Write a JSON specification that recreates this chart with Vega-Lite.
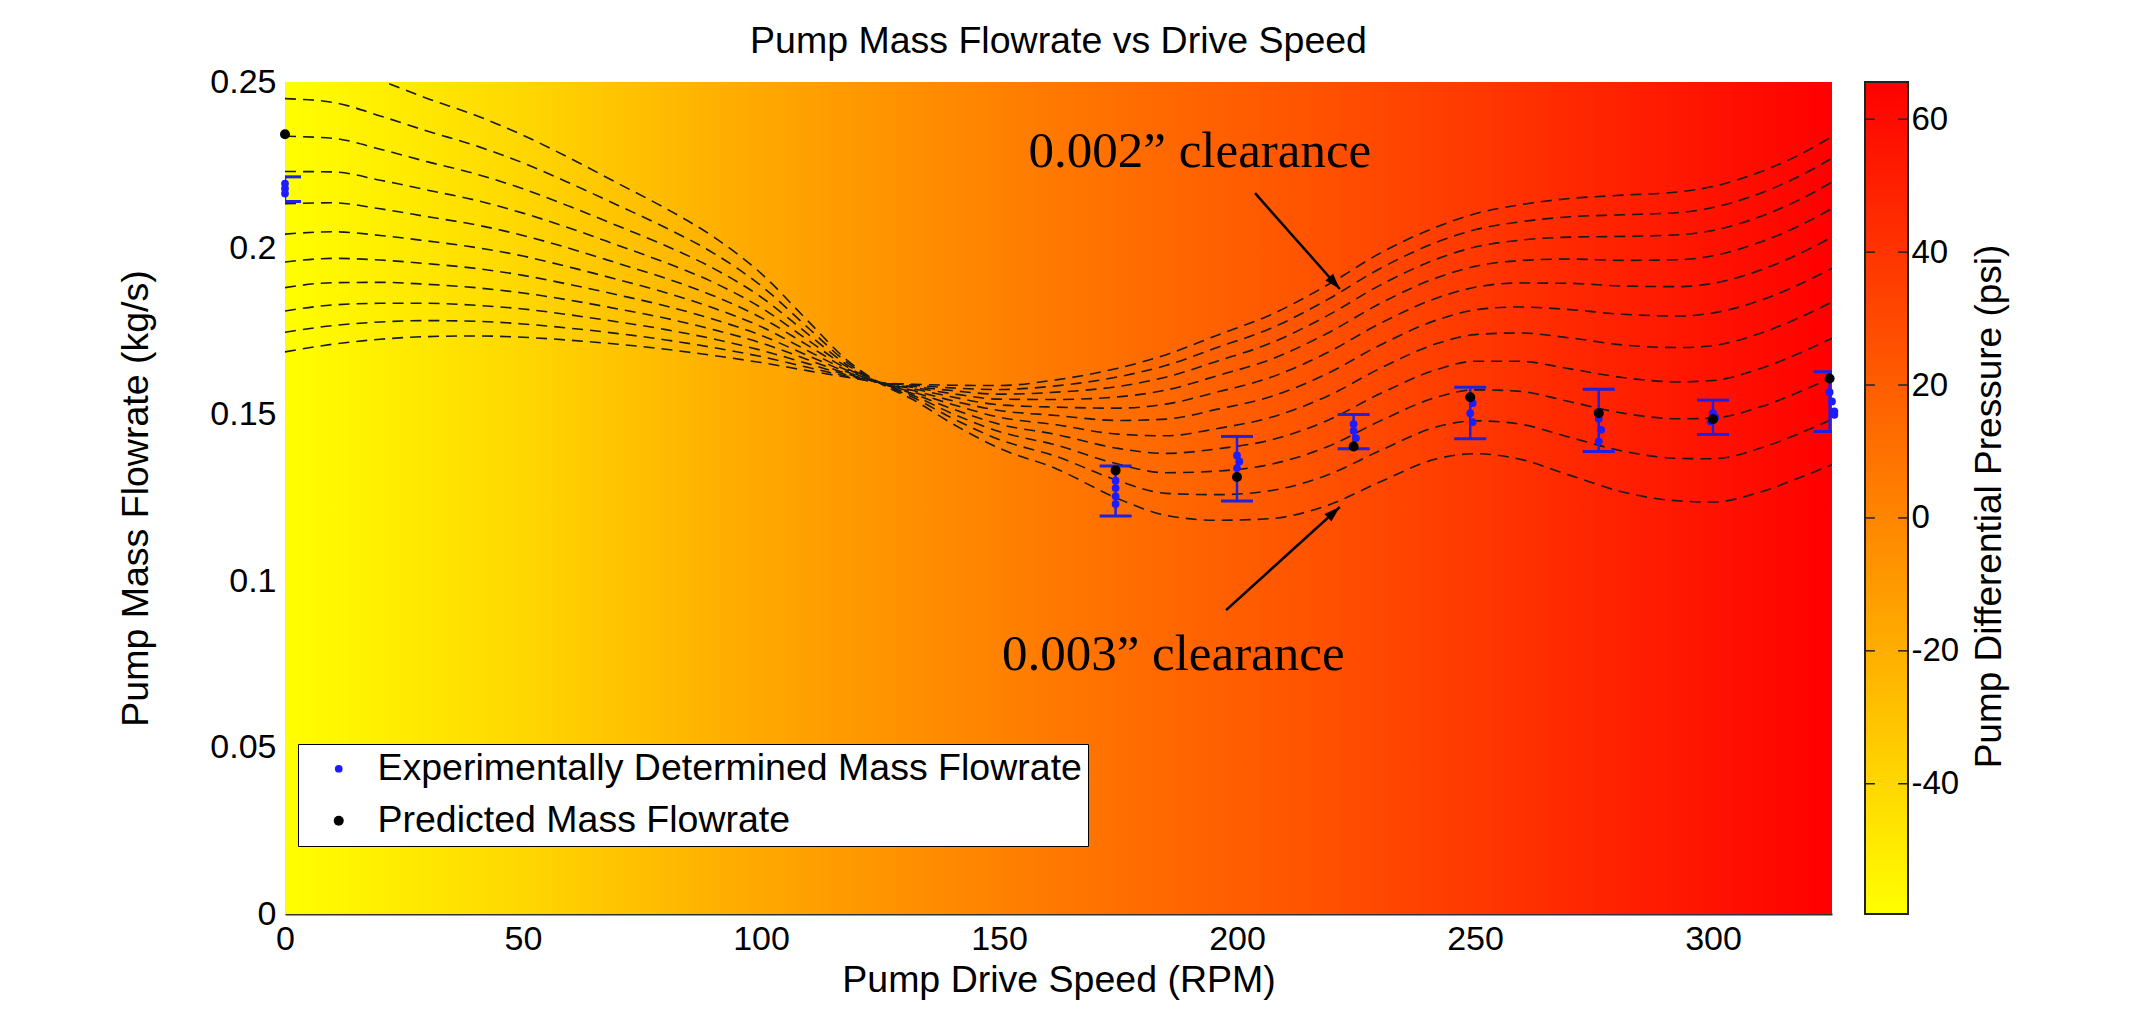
{
  "$schema": "https://vega.github.io/schema/vega-lite/v6.json",
  "padding": {"left": 117, "top": 22, "right": 5, "bottom": 5},
  "background": "white",
  "spacing": 33,
  "bounds": "flush",
  "config": {
    "font": "Liberation Sans",
    "view": {"stroke": null},
    "axis": {"labelColor": "#000", "titleColor": "#000", "titleFontWeight": "normal", "labelFont": "Liberation Sans", "titleFont": "Liberation Sans", "labelFlush": false, "labelOverlap": false, "grid": false}
  },
  "resolve": {"scale": {"color": "independent", "size": "independent", "x": "independent", "y": "independent"}},
  "datasets": {
    "curves": [
      {"c":0,"x":0,"y":0.1689},{"c":0,"x":10,"y":0.1712},{"c":0,"x":20,"y":0.1727},{"c":0,"x":30,"y":0.1735},{"c":0,"x":40,"y":0.1737},{"c":0,"x":50,"y":0.1733},{"c":0,"x":60,"y":0.1724},{"c":0,"x":70,"y":0.1712},{"c":0,"x":80,"y":0.1697},{"c":0,"x":90,"y":0.1678},{"c":0,"x":100,"y":0.1657},{"c":0,"x":110,"y":0.1632},{"c":0,"x":118,"y":0.1613},{"c":0,"x":125,"y":0.1597},{"c":0,"x":132,"y":0.1592},{"c":0,"x":140,"y":0.1589},{"c":0,"x":150,"y":0.1588},{"c":0,"x":162,"y":0.1605},{"c":0,"x":175,"y":0.1640},{"c":0,"x":185,"y":0.1680},{"c":0,"x":196,"y":0.1740},{"c":0,"x":207,"y":0.1800},{"c":0,"x":219,"y":0.1890},{"c":0,"x":230,"y":0.1985},{"c":0,"x":242,"y":0.2065},{"c":0,"x":250,"y":0.2104},{"c":0,"x":259,"y":0.2130},{"c":0,"x":270,"y":0.2150},{"c":0,"x":281,"y":0.2160},{"c":0,"x":293,"y":0.2170},{"c":0,"x":300,"y":0.2186},{"c":0,"x":310,"y":0.2230},{"c":0,"x":318,"y":0.2280},{"c":0,"x":325,"y":0.2336},
      {"c":1,"x":0,"y":0.1748},{"c":1,"x":10,"y":0.1768},{"c":1,"x":20,"y":0.1779},{"c":1,"x":30,"y":0.1783},{"c":1,"x":40,"y":0.1781},{"c":1,"x":50,"y":0.1773},{"c":1,"x":60,"y":0.1760},{"c":1,"x":70,"y":0.1744},{"c":1,"x":80,"y":0.1725},{"c":1,"x":90,"y":0.1702},{"c":1,"x":100,"y":0.1675},{"c":1,"x":110,"y":0.1642},{"c":1,"x":118,"y":0.1616},{"c":1,"x":125,"y":0.1597},{"c":1,"x":132,"y":0.1589},{"c":1,"x":140,"y":0.1581},{"c":1,"x":150,"y":0.1576},{"c":1,"x":162,"y":0.1587},{"c":1,"x":175,"y":0.1614},{"c":1,"x":185,"y":0.1648},{"c":1,"x":196,"y":0.1703},{"c":1,"x":207,"y":0.1759},{"c":1,"x":219,"y":0.1846},{"c":1,"x":230,"y":0.1939},{"c":1,"x":242,"y":0.2019},{"c":1,"x":250,"y":0.2056},{"c":1,"x":259,"y":0.2079},{"c":1,"x":270,"y":0.2095},{"c":1,"x":281,"y":0.2101},{"c":1,"x":293,"y":0.2108},{"c":1,"x":300,"y":0.2123},{"c":1,"x":310,"y":0.2166},{"c":1,"x":318,"y":0.2216},{"c":1,"x":325,"y":0.2271},
      {"c":2,"x":0,"y":0.1812},{"c":2,"x":10,"y":0.1830},{"c":2,"x":20,"y":0.1835},{"c":2,"x":30,"y":0.1835},{"c":2,"x":40,"y":0.1829},{"c":2,"x":50,"y":0.1818},{"c":2,"x":60,"y":0.1800},{"c":2,"x":70,"y":0.1779},{"c":2,"x":80,"y":0.1756},{"c":2,"x":90,"y":0.1728},{"c":2,"x":100,"y":0.1694},{"c":2,"x":110,"y":0.1653},{"c":2,"x":118,"y":0.1620},{"c":2,"x":125,"y":0.1597},{"c":2,"x":132,"y":0.1585},{"c":2,"x":140,"y":0.1573},{"c":2,"x":150,"y":0.1562},{"c":2,"x":162,"y":0.1568},{"c":2,"x":175,"y":0.1585},{"c":2,"x":185,"y":0.1613},{"c":2,"x":196,"y":0.1662},{"c":2,"x":207,"y":0.1715},{"c":2,"x":219,"y":0.1798},{"c":2,"x":230,"y":0.1889},{"c":2,"x":242,"y":0.1968},{"c":2,"x":250,"y":0.2004},{"c":2,"x":259,"y":0.2024},{"c":2,"x":270,"y":0.2034},{"c":2,"x":281,"y":0.2036},{"c":2,"x":293,"y":0.2041},{"c":2,"x":300,"y":0.2054},{"c":2,"x":310,"y":0.2096},{"c":2,"x":318,"y":0.2145},{"c":2,"x":325,"y":0.2199},
      {"c":3,"x":0,"y":0.1882},{"c":3,"x":10,"y":0.1897},{"c":3,"x":20,"y":0.1898},{"c":3,"x":30,"y":0.1892},{"c":3,"x":40,"y":0.1882},{"c":3,"x":50,"y":0.1866},{"c":3,"x":60,"y":0.1844},{"c":3,"x":70,"y":0.1818},{"c":3,"x":80,"y":0.1790},{"c":3,"x":90,"y":0.1756},{"c":3,"x":100,"y":0.1716},{"c":3,"x":110,"y":0.1665},{"c":3,"x":118,"y":0.1624},{"c":3,"x":125,"y":0.1597},{"c":3,"x":132,"y":0.1582},{"c":3,"x":140,"y":0.1564},{"c":3,"x":150,"y":0.1547},{"c":3,"x":162,"y":0.1546},{"c":3,"x":175,"y":0.1554},{"c":3,"x":185,"y":0.1574},{"c":3,"x":196,"y":0.1618},{"c":3,"x":207,"y":0.1666},{"c":3,"x":219,"y":0.1745},{"c":3,"x":230,"y":0.1834},{"c":3,"x":242,"y":0.1912},{"c":3,"x":250,"y":0.1946},{"c":3,"x":259,"y":0.1963},{"c":3,"x":270,"y":0.1968},{"c":3,"x":281,"y":0.1964},{"c":3,"x":293,"y":0.1966},{"c":3,"x":300,"y":0.1978},{"c":3,"x":310,"y":0.2019},{"c":3,"x":318,"y":0.2067},{"c":3,"x":325,"y":0.2120},
      {"c":4,"x":0,"y":0.1959},{"c":4,"x":10,"y":0.1970},{"c":4,"x":20,"y":0.1965},{"c":4,"x":30,"y":0.1954},{"c":4,"x":40,"y":0.1940},{"c":4,"x":50,"y":0.1919},{"c":4,"x":60,"y":0.1891},{"c":4,"x":70,"y":0.1860},{"c":4,"x":80,"y":0.1827},{"c":4,"x":90,"y":0.1787},{"c":4,"x":100,"y":0.1739},{"c":4,"x":110,"y":0.1677},{"c":4,"x":118,"y":0.1629},{"c":4,"x":125,"y":0.1596},{"c":4,"x":132,"y":0.1578},{"c":4,"x":140,"y":0.1554},{"c":4,"x":150,"y":0.1530},{"c":4,"x":162,"y":0.1523},{"c":4,"x":175,"y":0.1520},{"c":4,"x":185,"y":0.1532},{"c":4,"x":196,"y":0.1569},{"c":4,"x":207,"y":0.1612},{"c":4,"x":219,"y":0.1687},{"c":4,"x":230,"y":0.1774},{"c":4,"x":242,"y":0.1851},{"c":4,"x":250,"y":0.1883},{"c":4,"x":259,"y":0.1896},{"c":4,"x":270,"y":0.1895},{"c":4,"x":281,"y":0.1887},{"c":4,"x":293,"y":0.1885},{"c":4,"x":300,"y":0.1895},{"c":4,"x":310,"y":0.1935},{"c":4,"x":318,"y":0.1983},{"c":4,"x":325,"y":0.2034},
      {"c":5,"x":0,"y":0.2043},{"c":5,"x":10,"y":0.2050},{"c":5,"x":20,"y":0.2039},{"c":5,"x":30,"y":0.2022},{"c":5,"x":40,"y":0.2003},{"c":5,"x":50,"y":0.1977},{"c":5,"x":60,"y":0.1943},{"c":5,"x":70,"y":0.1906},{"c":5,"x":80,"y":0.1867},{"c":5,"x":90,"y":0.1821},{"c":5,"x":100,"y":0.1765},{"c":5,"x":110,"y":0.1691},{"c":5,"x":118,"y":0.1634},{"c":5,"x":125,"y":0.1596},{"c":5,"x":132,"y":0.1573},{"c":5,"x":140,"y":0.1543},{"c":5,"x":150,"y":0.1513},{"c":5,"x":162,"y":0.1498},{"c":5,"x":175,"y":0.1483},{"c":5,"x":185,"y":0.1487},{"c":5,"x":196,"y":0.1517},{"c":5,"x":207,"y":0.1554},{"c":5,"x":219,"y":0.1624},{"c":5,"x":230,"y":0.1709},{"c":5,"x":242,"y":0.1785},{"c":5,"x":250,"y":0.1815},{"c":5,"x":259,"y":0.1824},{"c":5,"x":270,"y":0.1816},{"c":5,"x":281,"y":0.1802},{"c":5,"x":293,"y":0.1797},{"c":5,"x":300,"y":0.1806},{"c":5,"x":310,"y":0.1844},{"c":5,"x":318,"y":0.1891},{"c":5,"x":325,"y":0.1940},
      {"c":6,"x":0,"y":0.2134},{"c":6,"x":10,"y":0.2137},{"c":6,"x":20,"y":0.2119},{"c":6,"x":30,"y":0.2095},{"c":6,"x":40,"y":0.2071},{"c":6,"x":50,"y":0.2039},{"c":6,"x":60,"y":0.1999},{"c":6,"x":70,"y":0.1955},{"c":6,"x":80,"y":0.1910},{"c":6,"x":90,"y":0.1858},{"c":6,"x":100,"y":0.1792},{"c":6,"x":110,"y":0.1707},{"c":6,"x":118,"y":0.1639},{"c":6,"x":125,"y":0.1596},{"c":6,"x":132,"y":0.1568},{"c":6,"x":140,"y":0.1532},{"c":6,"x":150,"y":0.1493},{"c":6,"x":162,"y":0.1470},{"c":6,"x":175,"y":0.1442},{"c":6,"x":185,"y":0.1437},{"c":6,"x":196,"y":0.1459},{"c":6,"x":207,"y":0.1492},{"c":6,"x":219,"y":0.1556},{"c":6,"x":230,"y":0.1639},{"c":6,"x":242,"y":0.1714},{"c":6,"x":250,"y":0.1741},{"c":6,"x":259,"y":0.1746},{"c":6,"x":270,"y":0.1731},{"c":6,"x":281,"y":0.1710},{"c":6,"x":293,"y":0.1702},{"c":6,"x":300,"y":0.1708},{"c":6,"x":310,"y":0.1745},{"c":6,"x":318,"y":0.1791},{"c":6,"x":325,"y":0.1839},
      {"c":7,"x":0,"y":0.2231},{"c":7,"x":10,"y":0.2230},{"c":7,"x":20,"y":0.2205},{"c":7,"x":30,"y":0.2175},{"c":7,"x":40,"y":0.2145},{"c":7,"x":50,"y":0.2106},{"c":7,"x":60,"y":0.2060},{"c":7,"x":70,"y":0.2009},{"c":7,"x":80,"y":0.1957},{"c":7,"x":90,"y":0.1898},{"c":7,"x":100,"y":0.1822},{"c":7,"x":110,"y":0.1723},{"c":7,"x":118,"y":0.1645},{"c":7,"x":125,"y":0.1596},{"c":7,"x":132,"y":0.1563},{"c":7,"x":140,"y":0.1519},{"c":7,"x":150,"y":0.1472},{"c":7,"x":162,"y":0.1441},{"c":7,"x":175,"y":0.1399},{"c":7,"x":185,"y":0.1384},{"c":7,"x":196,"y":0.1398},{"c":7,"x":207,"y":0.1424},{"c":7,"x":219,"y":0.1483},{"c":7,"x":230,"y":0.1563},{"c":7,"x":242,"y":0.1636},{"c":7,"x":250,"y":0.1661},{"c":7,"x":259,"y":0.1661},{"c":7,"x":270,"y":0.1638},{"c":7,"x":281,"y":0.1612},{"c":7,"x":293,"y":0.1599},{"c":7,"x":300,"y":0.1603},{"c":7,"x":310,"y":0.1639},{"c":7,"x":318,"y":0.1684},{"c":7,"x":325,"y":0.1730},
      {"c":8,"x":0,"y":0.2337},{"c":8,"x":10,"y":0.2331},{"c":8,"x":20,"y":0.2298},{"c":8,"x":30,"y":0.2260},{"c":8,"x":40,"y":0.2224},{"c":8,"x":50,"y":0.2179},{"c":8,"x":60,"y":0.2125},{"c":8,"x":70,"y":0.2067},{"c":8,"x":80,"y":0.2008},{"c":8,"x":90,"y":0.1940},{"c":8,"x":100,"y":0.1854},{"c":8,"x":110,"y":0.1741},{"c":8,"x":118,"y":0.1651},{"c":8,"x":125,"y":0.1596},{"c":8,"x":132,"y":0.1558},{"c":8,"x":140,"y":0.1505},{"c":8,"x":150,"y":0.1450},{"c":8,"x":162,"y":0.1409},{"c":8,"x":175,"y":0.1352},{"c":8,"x":185,"y":0.1326},{"c":8,"x":196,"y":0.1331},{"c":8,"x":207,"y":0.1351},{"c":8,"x":219,"y":0.1404},{"c":8,"x":230,"y":0.1481},{"c":8,"x":242,"y":0.1553},{"c":8,"x":250,"y":0.1575},{"c":8,"x":259,"y":0.1571},{"c":8,"x":270,"y":0.1539},{"c":8,"x":281,"y":0.1505},{"c":8,"x":293,"y":0.1488},{"c":8,"x":300,"y":0.1490},{"c":8,"x":310,"y":0.1524},{"c":8,"x":318,"y":0.1568},{"c":8,"x":325,"y":0.1612},
      {"c":9,"x":0,"y":0.2450},{"c":9,"x":10,"y":0.2439},{"c":9,"x":20,"y":0.2398},{"c":9,"x":30,"y":0.2352},{"c":9,"x":40,"y":0.2309},{"c":9,"x":50,"y":0.2257},{"c":9,"x":60,"y":0.2195},{"c":9,"x":70,"y":0.2129},{"c":9,"x":80,"y":0.2062},{"c":9,"x":90,"y":0.1986},{"c":9,"x":100,"y":0.1888},{"c":9,"x":110,"y":0.1760},{"c":9,"x":118,"y":0.1658},{"c":9,"x":125,"y":0.1595},{"c":9,"x":132,"y":0.1552},{"c":9,"x":140,"y":0.1491},{"c":9,"x":150,"y":0.1426},{"c":9,"x":162,"y":0.1375},{"c":9,"x":175,"y":0.1302},{"c":9,"x":185,"y":0.1264},{"c":9,"x":196,"y":0.1260},{"c":9,"x":207,"y":0.1272},{"c":9,"x":219,"y":0.1319},{"c":9,"x":230,"y":0.1392},{"c":9,"x":242,"y":0.1464},{"c":9,"x":250,"y":0.1482},{"c":9,"x":259,"y":0.1473},{"c":9,"x":270,"y":0.1432},{"c":9,"x":281,"y":0.1391},{"c":9,"x":293,"y":0.1369},{"c":9,"x":300,"y":0.1368},{"c":9,"x":310,"y":0.1400},{"c":9,"x":318,"y":0.1443},{"c":9,"x":325,"y":0.1486},
      {"c":10,"x":0,"y":0.2571},{"c":10,"x":10,"y":0.2555},{"c":10,"x":20,"y":0.2505},{"c":10,"x":30,"y":0.2450},{"c":10,"x":40,"y":0.2400},{"c":10,"x":50,"y":0.2340},{"c":10,"x":60,"y":0.2270},{"c":10,"x":70,"y":0.2195},{"c":10,"x":80,"y":0.2120},{"c":10,"x":90,"y":0.2035},{"c":10,"x":100,"y":0.1925},{"c":10,"x":110,"y":0.1780},{"c":10,"x":118,"y":0.1665},{"c":10,"x":125,"y":0.1595},{"c":10,"x":132,"y":0.1545},{"c":10,"x":140,"y":0.1475},{"c":10,"x":150,"y":0.1400},{"c":10,"x":162,"y":0.1338},{"c":10,"x":175,"y":0.1248},{"c":10,"x":185,"y":0.1198},{"c":10,"x":196,"y":0.1183},{"c":10,"x":207,"y":0.1188},{"c":10,"x":219,"y":0.1228},{"c":10,"x":230,"y":0.1298},{"c":10,"x":242,"y":0.1368},{"c":10,"x":250,"y":0.1383},{"c":10,"x":259,"y":0.1368},{"c":10,"x":270,"y":0.1318},{"c":10,"x":281,"y":0.1268},{"c":10,"x":293,"y":0.1241},{"c":10,"x":300,"y":0.1238},{"c":10,"x":310,"y":0.1268},{"c":10,"x":318,"y":0.1310},{"c":10,"x":325,"y":0.1350}
    ],
    "pts": [
      {"s":"Experimentally Determined Mass Flowrate","x":0,"y":0.2195},
      {"s":"Experimentally Determined Mass Flowrate","x":0,"y":0.2180},
      {"s":"Experimentally Determined Mass Flowrate","x":0,"y":0.2165},
      {"s":"Experimentally Determined Mass Flowrate","x":174.5,"y":0.1302},
      {"s":"Experimentally Determined Mass Flowrate","x":174.5,"y":0.1280},
      {"s":"Experimentally Determined Mass Flowrate","x":174.5,"y":0.1255},
      {"s":"Experimentally Determined Mass Flowrate","x":174.5,"y":0.1232},
      {"s":"Experimentally Determined Mass Flowrate","x":200,"y":0.1378},
      {"s":"Experimentally Determined Mass Flowrate","x":200.5,"y":0.1360},
      {"s":"Experimentally Determined Mass Flowrate","x":200,"y":0.1340},
      {"s":"Experimentally Determined Mass Flowrate","x":224.5,"y":0.1472},
      {"s":"Experimentally Determined Mass Flowrate","x":224.5,"y":0.1452},
      {"s":"Experimentally Determined Mass Flowrate","x":225,"y":0.1430},
      {"s":"Experimentally Determined Mass Flowrate","x":249.5,"y":0.1535},
      {"s":"Experimentally Determined Mass Flowrate","x":249,"y":0.1505},
      {"s":"Experimentally Determined Mass Flowrate","x":249.5,"y":0.1478},
      {"s":"Experimentally Determined Mass Flowrate","x":276,"y":0.1488},
      {"s":"Experimentally Determined Mass Flowrate","x":276.5,"y":0.1455},
      {"s":"Experimentally Determined Mass Flowrate","x":276,"y":0.1420},
      {"s":"Experimentally Determined Mass Flowrate","x":300,"y":0.1505},
      {"s":"Experimentally Determined Mass Flowrate","x":300.5,"y":0.1492},
      {"s":"Experimentally Determined Mass Flowrate","x":299.5,"y":0.1480},
      {"s":"Experimentally Determined Mass Flowrate","x":324.5,"y":0.1568},
      {"s":"Experimentally Determined Mass Flowrate","x":325,"y":0.1540},
      {"s":"Experimentally Determined Mass Flowrate","x":325.5,"y":0.1510},
      {"s":"Experimentally Determined Mass Flowrate","x":325.5,"y":0.1500},
      {"s":"Predicted Mass Flowrate","x":0,"y":0.2343},
      {"s":"Predicted Mass Flowrate","x":174.5,"y":0.1333},
      {"s":"Predicted Mass Flowrate","x":200,"y":0.1313},
      {"s":"Predicted Mass Flowrate","x":224.5,"y":0.1405},
      {"s":"Predicted Mass Flowrate","x":249,"y":0.1553},
      {"s":"Predicted Mass Flowrate","x":276,"y":0.1505},
      {"s":"Predicted Mass Flowrate","x":300,"y":0.1487},
      {"s":"Predicted Mass Flowrate","x":324.5,"y":0.1609}
    ],
    "eb": [
      {"x":0,"lo":0.2141,"hi":0.2215},
      {"x":174.5,"lo":0.1196,"hi":0.1346},
      {"x":200,"lo":0.1241,"hi":0.1435},
      {"x":224.5,"lo":0.1398,"hi":0.1501},
      {"x":249,"lo":0.1428,"hi":0.1583},
      {"x":276,"lo":0.1390,"hi":0.1577},
      {"x":300,"lo":0.1441,"hi":0.1544},
      {"x":324.5,"lo":0.1450,"hi":0.1629}
    ],
    "ann": [
      {"t":"0.002” clearance","x":192.2,"y":0.229},
      {"t":"0.003” clearance","x":186.6,"y":0.0778}
    ],
    "arr": [
      {"a":"2","x":203.8,"y":0.2166,"x2":221.6,"y2":0.1878},
      {"a":"3","x":197.7,"y":0.0913,"x2":221.6,"y2":0.1223}
    ],
    "cb": [{"p":-40},{"p":-20},{"p":0},{"p":20},{"p":40},{"p":60}]
  },
  "hconcat": [
    {
      "width": 1547,
      "height": 832,
      "title": {"text": "Pump Mass Flowrate vs Drive Speed", "fontSize": 37.5, "fontWeight": "normal", "font": "Liberation Sans", "color": "#000", "offset": 5, "frame": "group", "anchor": "middle"},
      "view": {"stroke": null},
      "layer": [
        {
          "data": {"values": [{}]},
          "mark": {"type": "rect", "fill": {"gradient": "linear", "x1": 0, "y1": 0, "x2": 1, "y2": 0, "stops": [
            {"offset": 0, "color": "#ffff00"},
            {"offset": 0.15, "color": "#ffd800"},
            {"offset": 0.3, "color": "#ffaa00"},
            {"offset": 0.5, "color": "#ff7800"},
            {"offset": 0.7, "color": "#ff4a00"},
            {"offset": 0.85, "color": "#ff2400"},
            {"offset": 1, "color": "#ff0000"}]}},
          "encoding": {
            "x": {"datum": 0, "type": "quantitative", "scale": {"domain": [0, 325], "nice": false, "zero": false},
                  "axis": {"title": "Pump Drive Speed (RPM)", "values": [0, 50, 100, 150, 200, 250, 300], "labelFontSize": 34, "titleFontSize": 37.5, "ticks": false, "domain": true, "domainColor": "#333", "domainWidth": 2, "labelPadding": 8, "titlePadding": 5}},
            "x2": {"datum": 325},
            "y": {"datum": 0, "type": "quantitative", "scale": {"domain": [0, 0.25], "nice": false, "zero": false},
                  "axis": {"title": "Pump Mass Flowrate (kg/s)", "values": [0, 0.05, 0.1, 0.15, 0.2, 0.25], "format": "~g", "labelFontSize": 34, "titleFontSize": 37.5, "ticks": false, "domain": false, "labelPadding": 9, "titlePadding": 54}},
            "y2": {"datum": 0.25}
          }
        },
        {
          "data": {"name": "curves"},
          "mark": {"type": "line", "clip": true, "color": "#1a1a1a", "strokeWidth": 1.6, "strokeDash": [11, 7], "interpolate": "monotone"},
          "encoding": {
            "x": {"field": "x", "type": "quantitative"},
            "y": {"field": "y", "type": "quantitative"},
            "detail": {"field": "c", "type": "nominal"}
          }
        },
        {
          "data": {"name": "eb"},
          "mark": {"type": "rule", "color": "#2020e0", "strokeWidth": 2.5, "clip": true},
          "encoding": {
            "x": {"field": "x", "type": "quantitative"},
            "y": {"field": "lo", "type": "quantitative"},
            "y2": {"field": "hi"}
          }
        },
        {
          "data": {"name": "eb"},
          "mark": {"type": "tick", "orient": "horizontal", "color": "#2020e0", "size": 32, "thickness": 3, "opacity": 1, "clip": true},
          "encoding": {
            "x": {"field": "x", "type": "quantitative"},
            "y": {"field": "lo", "type": "quantitative"}
          }
        },
        {
          "data": {"name": "eb"},
          "mark": {"type": "tick", "orient": "horizontal", "color": "#2020e0", "size": 32, "thickness": 3, "opacity": 1, "clip": true},
          "encoding": {
            "x": {"field": "x", "type": "quantitative"},
            "y": {"field": "hi", "type": "quantitative"}
          }
        },
        {
          "data": {"name": "pts"},
          "mark": {"type": "point", "filled": true, "opacity": 1},
          "encoding": {
            "x": {"field": "x", "type": "quantitative"},
            "y": {"field": "y", "type": "quantitative"},
            "color": {"field": "s", "type": "nominal",
              "scale": {"domain": ["Experimentally Determined Mass Flowrate", "Predicted Mass Flowrate"], "range": ["#1c1cff", "#000000"]},
              "legend": {"title": null, "orient": "none", "legendX": 13, "legendY": 662, "fillColor": "white", "strokeColor": "#000", "padding": 6, "labelFontSize": 37.5, "labelColor": "#000", "labelFont": "Liberation Sans", "symbolType": "circle", "symbolOffset": 16, "labelOffset": 20, "rowPadding": 13, "labelLimit": 1000}},
            "size": {"field": "s", "type": "nominal",
              "scale": {"domain": ["Experimentally Determined Mass Flowrate", "Predicted Mass Flowrate"], "range": [60, 100]},
              "legend": {"title": null, "orient": "none", "legendX": 13, "legendY": 662, "fillColor": "white", "strokeColor": "#000", "padding": 6, "labelFontSize": 37.5, "labelColor": "#000", "labelFont": "Liberation Sans", "symbolType": "circle", "symbolOffset": 16, "labelOffset": 20, "rowPadding": 13, "labelLimit": 1000}}
          }
        },
        {
          "data": {"name": "ann"},
          "mark": {"type": "text", "font": "Liberation Serif", "fontSize": 51, "color": "#000", "align": "center", "baseline": "middle"},
          "encoding": {
            "x": {"field": "x", "type": "quantitative"},
            "y": {"field": "y", "type": "quantitative"},
            "text": {"field": "t"}
          }
        },
        {
          "data": {"name": "arr"},
          "mark": {"type": "rule", "color": "#000", "strokeWidth": 2.5},
          "encoding": {
            "x": {"field": "x", "type": "quantitative"},
            "y": {"field": "y", "type": "quantitative"},
            "x2": {"field": "x2"},
            "y2": {"field": "y2"}
          }
        },
        {
          "data": {"name": "arr"},
          "transform": [{"filter": "datum.a === '2'"}],
          "mark": {"type": "point", "filled": true, "color": "#000", "opacity": 1, "shape": "M0,0L0.32,1L-0.32,1Z", "size": 1024, "angle": 138.5},
          "encoding": {
            "x": {"field": "x2", "type": "quantitative"},
            "y": {"field": "y2", "type": "quantitative"}
          }
        },
        {
          "data": {"name": "arr"},
          "transform": [{"filter": "datum.a === '3'"}],
          "mark": {"type": "point", "filled": true, "color": "#000", "opacity": 1, "shape": "M0,0L0.32,1L-0.32,1Z", "size": 1024, "angle": 47.9},
          "encoding": {
            "x": {"field": "x2", "type": "quantitative"},
            "y": {"field": "y2", "type": "quantitative"}
          }
        }
      ]
    },
    {
      "width": 43,
      "height": 832,
      "view": {"stroke": null},
      "layer": [
        {
          "data": {"values": [{}]},
          "mark": {"type": "rect", "stroke": "#222", "strokeWidth": 2, "fill": {"gradient": "linear", "x1": 0, "y1": 1, "x2": 0, "y2": 0, "stops": [
            {"offset": 0, "color": "#ffff00"},
            {"offset": 1, "color": "#ff0000"}]}},
          "encoding": {
            "x": {"datum": 0, "type": "quantitative", "scale": {"domain": [0, 1], "nice": false, "zero": false}, "axis": null},
            "x2": {"datum": 1},
            "y": {"datum": -59.6, "type": "quantitative", "scale": {"domain": [-59.6, 65.6], "nice": false, "zero": false},
                  "axis": {"orient": "right", "title": "Pump Differential Pressure (psi)", "values": [-40, -20, 0, 20, 40, 60], "labelExpr": "datum.value < 0 ? '-' + abs(datum.value) : '' + datum.value", "labelFontSize": 33, "titleFontSize": 37, "ticks": false, "domain": false, "labelPadding": 3, "titlePadding": 13, "titleY": 424, "titleAngle": 270, "titleBaseline": "top"}},
            "y2": {"datum": 65.6}
          }
        },
        {
          "data": {"name": "cb"},
          "mark": {"type": "rule", "color": "#222", "strokeWidth": 1.5},
          "encoding": {
            "x": {"datum": 0, "type": "quantitative"},
            "x2": {"datum": 0.23},
            "y": {"field": "p", "type": "quantitative"}
          }
        },
        {
          "data": {"name": "cb"},
          "mark": {"type": "rule", "color": "#222", "strokeWidth": 1.5},
          "encoding": {
            "x": {"datum": 0.77, "type": "quantitative"},
            "x2": {"datum": 1},
            "y": {"field": "p", "type": "quantitative"}
          }
        }
      ]
    }
  ]
}
